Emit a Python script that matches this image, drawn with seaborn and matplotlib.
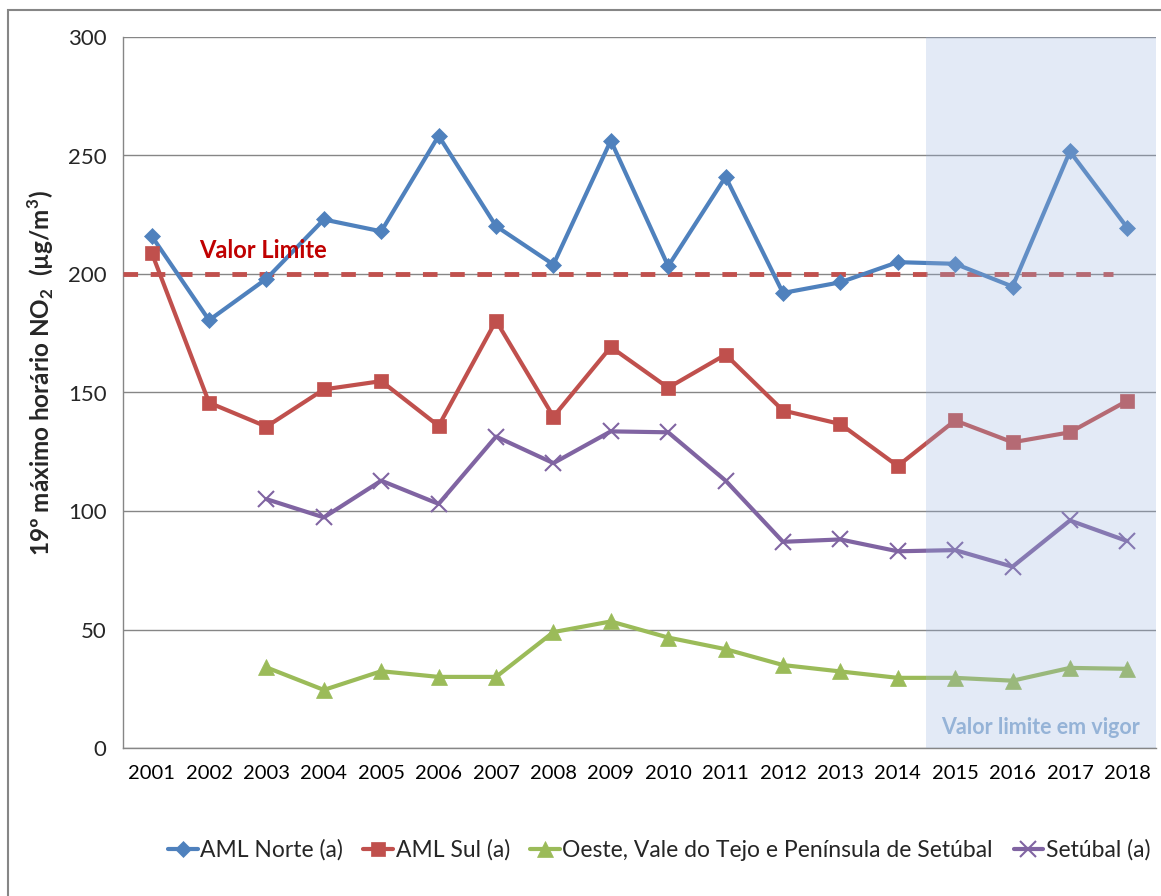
import matplotlib
matplotlib.use("Agg")
import matplotlib.pyplot as plt
import seaborn as sns
import numpy as np
import pandas as pd
from matplotlib.patches import Rectangle

years = [str(y) for y in range(2001, 2019)]
aml_norte = [216, 180.5, 198, 223, 218, 258.3, 220.2, 204, 256.3, 203.3, 241, 192, 196.5, 205, 204.3, 194.7, 251.7, 219.5]
aml_sul = [209, 145.7, 135.6, 151.3, 154.8, 135.9, 180.3, 139.8, 169.2, 152, 166, 142.4, 136.7, 119, 138.2, 129, 133.2, 146.5]
oeste = [np.nan, np.nan, 34, 24.5, 32.4, 30, 30, 48.9, 53.4, 46.6, 41.7, 35, 32.3, 29.6, 29.6, 28.4, 33.8, 33.4]
setubal = [np.nan, np.nan, 105, 97.3, 112.8, 103, 131.4, 120.2, 133.6, 133.2, 112.8, 87, 88, 83, 83.5, 76.5, 96, 87.3]
series_names = ["AML Norte (a)", "AML Sul (a)", "Oeste, Vale do Tejo e Península de Setúbal", "Setúbal (a)"]
limit_value = 200

colors = ["#4F81BD", "#C0504D", "#9BBB59", "#8064A2"]
markers = ["D", "s", "^", "x"]
msizes = [8, 10, 11, 11]

sns.set_style("white")
plt.rcParams['font.family'] = ['Lato', 'DejaVu Sans']
plt.rcParams['mathtext.fontset'] = 'custom'
plt.rcParams['mathtext.rm'] = 'Lato'
plt.rcParams['mathtext.bf'] = 'Lato:bold'

fig = plt.figure(figsize=(11.61, 8.96), dpi=100)
ax = fig.add_axes([123/1161, 1-748/896, (1156-123)/1161, (748-37)/896])

x = np.arange(len(years))
df = pd.DataFrame({"x": np.tile(x, 4),
                   "value": aml_norte + aml_sul + oeste + setubal,
                   "series": np.repeat(series_names, len(years))})

for name, c, m, ms in zip(series_names, colors, markers, msizes):
    sub = df[df["series"] == name].dropna()
    sns.lineplot(data=sub, x="x", y="value", ax=ax, color=c, lw=3, marker=m,
                 markersize=ms, markeredgecolor=c, markeredgewidth=1.5 if m == "x" else 0.5,
                 label=name, zorder=4)

# limit line
ax.plot([-0.5, 16.75], [limit_value, limit_value], color="#C0504D", lw=3.5,
        dashes=(3, 2.6), zorder=3, solid_capstyle='butt')
ax.text(0.82, 210, "Valor Limite", color="#C00000", fontsize=17, fontweight='bold',
        va='center', ha='left', zorder=6)

# shaded period overlay
ax.axvspan(13.5, 17.5, color=(152/255, 178/255, 222/255), alpha=0.27, lw=0, zorder=5)
ax.text(17.22, 8.5, "Valor limite em vigor", color="#95B3D7", fontsize=15.5,
        fontweight='bold', ha='right', va='center', zorder=6)

ax.set_xlim(-0.5, 17.5)
ax.set_ylim(0, 300)
ax.set_yticks(np.arange(0, 301, 50))
ax.set_xticks(x)
ax.set_xticklabels(years)
ax.set_xticks(np.arange(-0.5, 18, 1), minor=True)
ax.tick_params(axis='x', which='major', length=0, labelsize=14.5, pad=12, colors='black')
ax.tick_params(axis='x', which='minor', length=6, width=1, color='#868686', direction='out')
ax.tick_params(axis='y', which='major', length=6, width=1, color='#868686', direction='out',
               labelsize=16, pad=6)
ax.yaxis.grid(True, color='#868686', lw=1)
ax.set_axisbelow(True)
for s in ['top', 'right']:
    ax.spines[s].set_visible(False)
for s in ['left', 'bottom']:
    ax.spines[s].set_color('#868686')
    ax.spines[s].set_linewidth(1)
ax.set_xlabel("")
ax.set_ylabel(r"19º máximo horário NO$_\mathbf{2}$  (µg/m$^\mathbf{3}$)", fontsize=17.5,
              fontweight='bold', va='center')
ax.yaxis.set_label_coords(-0.080, 0.527)

leg = ax.legend(loc='center', bbox_to_anchor=(659/1161, 1-850/896), bbox_transform=fig.transFigure,
                ncol=4, frameon=False, fontsize=16.5, handlelength=1.3, columnspacing=0.9,
                handletextpad=0.1)

fig.patches.append(Rectangle((8/1161, -0.05), 1.2, 1-10/896+0.05, transform=fig.transFigure,
                             fill=False, edgecolor='#868686', lw=1.5))

fig.savefig("out.png", dpi=100)
